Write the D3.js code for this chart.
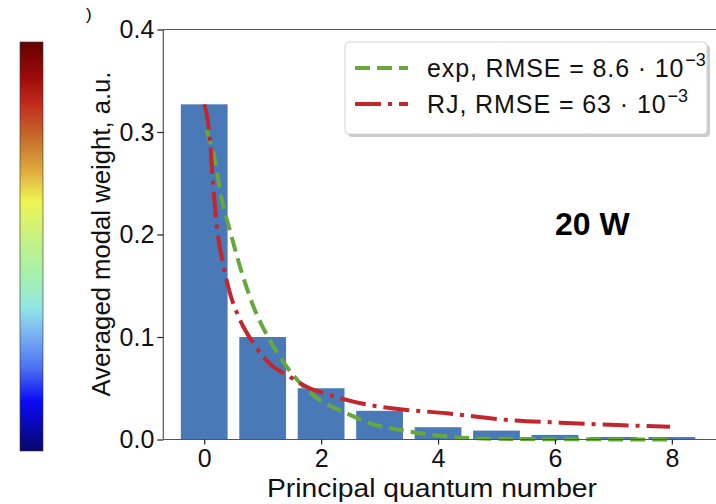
<!DOCTYPE html>
<html>
<head>
<meta charset="utf-8">
<script src="https://cdn.jsdelivr.net/npm/d3@7"></script>
<style>
  html, body { margin: 0; padding: 0; background: #fff; }
  svg { display: block; font-family: "Liberation Sans", Arial, sans-serif; }
</style>
</head>
<body>
<div id="chart"></div>
<script>
// --- data ---
const modes = [0, 1, 2, 3, 4, 5, 6, 7, 8];
const weights = [0.327, 0.100, 0.050, 0.028, 0.012, 0.0087, 0.0045, 0.0025, 0.0024];

// exponential fit (green dashed)
const expN = [0.04, 0.18, 0.30, 0.44, 0.61, 0.84, 1.12, 1.41, 1.69, 1.98, 2.44, 2.84, 3.35, 3.91, 4.49, 5.0, 6.0, 7.0, 8.0];
const expW = [0.302, 0.273, 0.234, 0.204, 0.169, 0.130, 0.097, 0.071, 0.052, 0.0385, 0.0254, 0.0158, 0.0093, 0.0044, 0.0015, 0.0007, 0.0003, 0.0001, 0.0];

// Rayleigh-Jeans fit (red dash-dot)
const rjN = [0.0, 0.10, 0.15, 0.21, 0.32, 0.44, 0.61, 0.84, 1.12, 1.47, 1.75, 2.15, 2.55, 3.0, 3.35, 4.15, 5.06, 6.09, 7.06, 7.97];
const rjW = [0.327, 0.292, 0.250, 0.211, 0.172, 0.143, 0.117, 0.094, 0.074, 0.061, 0.0515, 0.0434, 0.0369, 0.032, 0.0295, 0.0256, 0.0197, 0.0164, 0.0141, 0.0125];

const yTicks = [0.0, 0.1, 0.2, 0.3, 0.4];
const xTicks = [0, 2, 4, 6, 8];

const legendLabels = [
  { text: "exp, RMSE = 8.6 \u00b7 10", sup: "\u22123", color: "#66a83c", dash: "15,7" },
  { text: "RJ, RMSE = 63 \u00b7 10", sup: "\u22123", color: "#c1272d", dash: "26,7,4,7" }
];

// colour bar stops, top to bottom
const barStops = [
  [0.00, "#660000"], [0.09, "#a00c0c"], [0.15, "#c02a1c"], [0.24, "#c8702c"],
  [0.32, "#e0b040"], [0.39, "#eef552"], [0.48, "#c6f282"], [0.58, "#a2f0b2"],
  [0.65, "#92e6e6"], [0.71, "#7cb6f2"], [0.80, "#4a6ef0"], [0.88, "#0a0af6"], [1.00, "#08086a"]
];

// --- layout ---
const W = 716, H = 504;
const svg = d3.select("#chart").append("svg").attr("width", W).attr("height", H);

const x = d3.scaleLinear().domain([-0.7, 9.0]).range([163.3, 730.3]);
const y = d3.scaleLinear().domain([0, 0.4]).range([439.5, 29.5]);

// colour bar
const grad = svg.append("defs").append("linearGradient")
  .attr("id", "cbar").attr("x1", 0).attr("y1", 0).attr("x2", 0).attr("y2", 1);
grad.selectAll("stop").data(barStops).enter().append("stop")
  .attr("offset", d => d[0]).attr("stop-color", d => d[1]);
svg.append("rect").attr("x", 20).attr("y", 42).attr("width", 23).attr("height", 409)
  .attr("fill", "url(#cbar)").attr("stroke", "#333").attr("stroke-width", 0.6);

// panel mark left over from the crop
svg.append("text").attr("x", 86).attr("y", 20).attr("font-size", 17).text(")");

// bars
const bw = x(0.8) - x(0);
svg.selectAll(".bar").data(modes).enter().append("rect")
  .attr("x", d => x(d) - bw / 2)
  .attr("y", (d, i) => y(weights[i]))
  .attr("width", bw)
  .attr("height", (d, i) => y(0) - y(weights[i]))
  .attr("fill", "#4a79b8");

// fits
const line = d3.line().x(d => x(d[0])).y(d => y(d[1])).curve(d3.curveMonotoneX);
svg.append("path").datum(d3.zip(expN, expW)).attr("d", line)
  .attr("fill", "none").attr("stroke", legendLabels[0].color)
  .attr("stroke-width", 4).attr("stroke-dasharray", legendLabels[0].dash);
svg.append("path").datum(d3.zip(rjN, rjW)).attr("d", line)
  .attr("fill", "none").attr("stroke", legendLabels[1].color)
  .attr("stroke-width", 4).attr("stroke-dasharray", legendLabels[1].dash);

// spines
const spine = "#555";
svg.append("line").attr("x1", x.range()[0]).attr("x2", x.range()[1]).attr("y1", 29.5).attr("y2", 29.5)
  .attr("stroke", spine).attr("stroke-width", 1.2);
svg.append("line").attr("x1", x.range()[0]).attr("x2", x.range()[1]).attr("y1", 439.5).attr("y2", 439.5)
  .attr("stroke", spine).attr("stroke-width", 1.2);
svg.append("line").attr("x1", 163.3).attr("x2", 163.3).attr("y1", 29.5).attr("y2", 439.5)
  .attr("stroke", spine).attr("stroke-width", 1.2);

// axes
const yAxis = svg.append("g").attr("transform", "translate(163.3,0)")
  .call(d3.axisLeft(y).tickValues(yTicks).tickFormat(d3.format(".1f")).tickSize(6).tickPadding(3));
const xAxis = svg.append("g").attr("transform", "translate(0,439.5)")
  .call(d3.axisBottom(x).tickValues(xTicks).tickFormat(d3.format("d")).tickSize(5).tickPadding(5));
[yAxis, xAxis].forEach(a => {
  a.select(".domain").remove();
  a.selectAll(".tick line").attr("stroke", "#222").attr("stroke-width", 1.2);
  a.selectAll(".tick text").attr("font-size", 25).attr("fill", "#111")
    .attr("font-family", "'Liberation Sans', Arial, sans-serif");
});

// axis titles
svg.append("text").attr("transform", "translate(110,234) rotate(-90)")
  .attr("text-anchor", "middle").attr("font-size", 26).attr("fill", "#111")
  .attr("textLength", 325).attr("lengthAdjust", "spacingAndGlyphs")
  .text("Averaged modal weight, a.u.");
svg.append("text").attr("x", 432).attr("y", 497)
  .attr("text-anchor", "middle").attr("font-size", 26).attr("fill", "#111")
  .attr("textLength", 330).attr("lengthAdjust", "spacingAndGlyphs")
  .text("Principal quantum number");

// annotation
svg.append("text").attr("x", 555).attr("y", 235)
  .attr("font-size", 32).attr("font-weight", "bold").attr("fill", "#000").text("20 W");

// legend
const lg = svg.append("g");
lg.append("rect").attr("x", 348).attr("y", 45).attr("width", 362).attr("height", 92).attr("rx", 4)
  .attr("fill", "#aaa").attr("opacity", 0.6);
lg.append("rect").attr("x", 345).attr("y", 42).attr("width", 362).attr("height", 92).attr("rx", 4)
  .attr("fill", "#fff").attr("stroke", "#d4d4d4").attr("stroke-width", 1);
const rows = lg.selectAll(".row").data(legendLabels).enter().append("g")
  .attr("transform", (d, i) => `translate(0,${68 + i * 36})`);
rows.append("line").attr("x1", 355).attr("x2", 408).attr("y1", 0).attr("y2", 0)
  .attr("stroke", d => d.color).attr("stroke-width", 4).attr("stroke-dasharray", d => d.dash);
const t = rows.append("text").attr("x", 427).attr("y", 9).attr("font-size", 25).attr("fill", "#111");
// mathtext in the original is set a bit wider than plain sans
t.append("tspan").text(d => d.text)
  .each(function () {
    const len = this.getComputedTextLength();
    d3.select(this).attr("textLength", len * 1.07).attr("lengthAdjust", "spacing");
  });
t.append("tspan").attr("dy", -11).attr("dx", 1).attr("font-size", 18).text(d => d.sup);
</script>
</body>
</html>
